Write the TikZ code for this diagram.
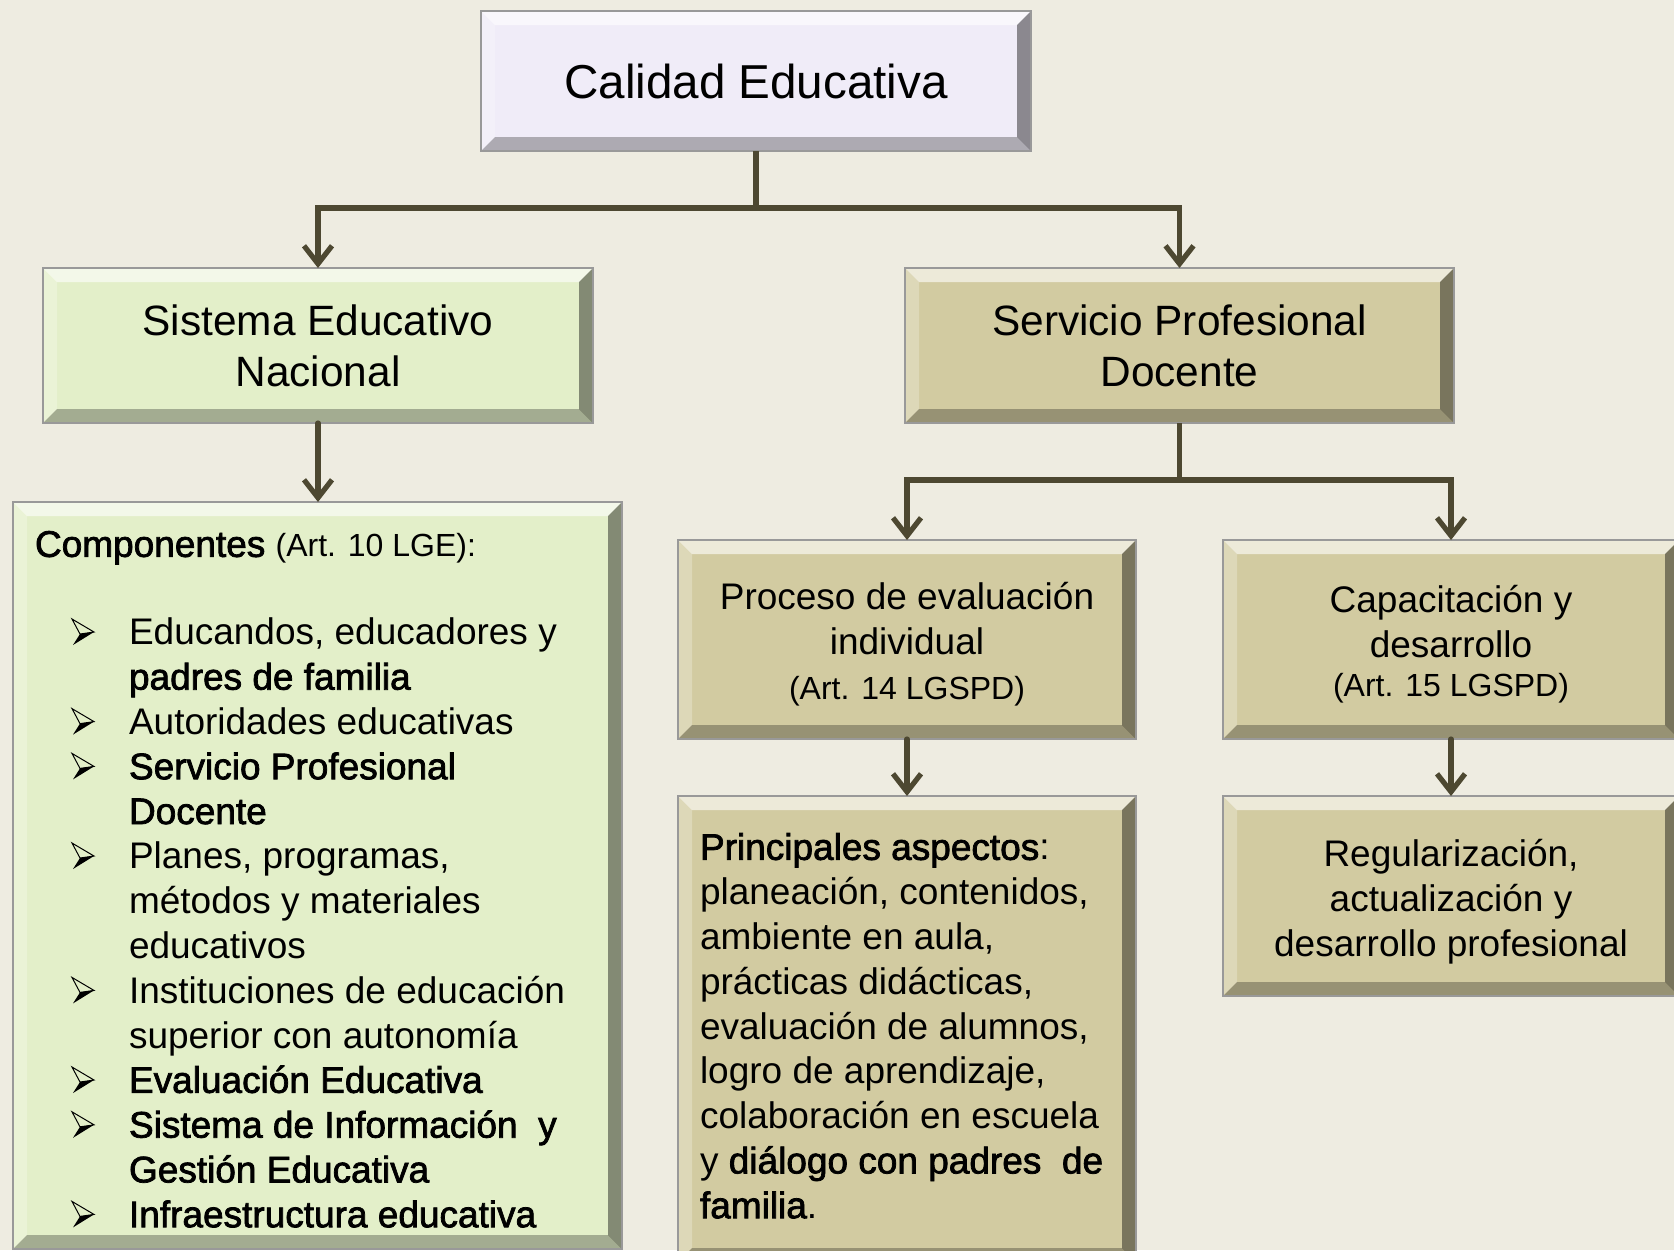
\documentclass[tikz,border=0pt]{standalone}
\usepackage{fontspec}
\setmainfont{Liberation Sans}
\newfontfamily\fbold[FakeBold=2]{Liberation Sans}
\usetikzlibrary{arrows.meta}
\definecolor{bgc}{HTML}{EEECE1}
\definecolor{lav}{HTML}{F0ECF8}
\definecolor{grn}{HTML}{E3EFC9}
\definecolor{tanc}{HTML}{D2CBA1}
\definecolor{arr}{HTML}{4D4831}
\newcommand{\bft}[1]{{\fbold #1}}
\newcommand{\ind}{\hspace*{28.5pt}}
\tikzset{
  bevel/.style={path picture={
    \path (path picture bounding box.south west) coordinate (bSW)
          (path picture bounding box.north east) coordinate (bNE)
          (path picture bounding box.north west) coordinate (bNW)
          (path picture bounding box.south east) coordinate (bSE);
    \fill[white,opacity=.6] (bNW) -- (bNE) -- ([shift={(-7pt,-7pt)}]bNE) -- ([shift={(7pt,-7pt)}]bNW) -- cycle;
    \fill[white,opacity=.25] (bNW) -- ([shift={(7pt,-7pt)}]bNW) -- ([shift={(7pt,7pt)}]bSW) -- (bSW) -- cycle;
    \fill[black,opacity=.42] (bNE) -- (bSE) -- ([shift={(-7pt,7pt)}]bSE) -- ([shift={(-7pt,-7pt)}]bNE) -- cycle;
    \fill[black,opacity=.28] (bSW) -- ([shift={(7pt,7pt)}]bSW) -- ([shift={(-7pt,7pt)}]bSE) -- (bSE) -- cycle;
  }},
  bx/.style={rectangle, inner sep=0pt, outer sep=0pt, fill=#1, draw=black!40, line width=0.6pt,
             align=center, bevel, font=\fontsize{18.5}{22.4}\selectfont},
  conn/.style={draw=arr, line width=2.6pt},
  arw/.style={conn, -{Straight Barb[length=9pt,width=14pt]}, line cap=round},
  txt/.style={inner sep=0pt, outer sep=0pt, font=\fontsize{18.5}{22.4}\selectfont},
  bullettop/.style={draw=black, line width=0.5pt, line join=miter},
  bulletlow/.style={fill=black}
}
\begin{document}
\begin{tikzpicture}[x=0.5pt,y=-0.5pt]
\useasboundingbox (0,0) rectangle (1674,1250);
\clip (0,0) rectangle (1674,1250);
\fill[bgc] (0,0) rectangle (1674,1250);

% boxes
\node[bx=lav, minimum width=275pt, minimum height=70pt, font=\fontsize{23.8}{28}\selectfont] (cal) at (756,81) {Calidad Educativa};
\node[bx=grn, minimum width=275pt, minimum height=77.5pt, font=\fontsize{21.2}{25.5}\selectfont] (sis) at (318,345.5) {Sistema Educativo\\Nacional};
\node[bx=tanc, minimum width=274.5pt, minimum height=77.5pt, font=\fontsize{21.2}{25.5}\selectfont] (ser) at (1179.5,345.5) {Servicio Profesional\\Docente};
\node[bx=grn, minimum width=304.5pt, minimum height=373.5pt] (comp) at (317.5,875.5) {};
\node[bx=tanc, minimum width=229pt, minimum height=99.5pt] (pro) at (907,639.5) {\rule{0pt}{18.5pt}Proceso de evaluación\\individual\\{\fontsize{16}{22.4}\selectfont (Art. 14 LGSPD)}};
\node[bx=tanc, minimum width=228pt, minimum height=99.5pt] (cap) at (1451,639.5) {\rule{0pt}{18.2pt}Capacitación y\\desarrollo\\[-2.7pt]{\fontsize{16}{20.5}\selectfont (Art. 15 LGSPD)}};
\node[bx=tanc, minimum width=229pt, minimum height=233pt] (pri) at (907,1029) {};
\node[bx=tanc, minimum width=228pt, minimum height=100pt] (reg) at (1451,896) {\rule{0pt}{19.1pt}Regularización,\\actualización y\\desarrollo profesional};

% texts in the large boxes
\node[txt, anchor=north west] (ctitle) at (35,531) {\bft{Componentes} {\fontsize{16}{16}\selectfont (Art. 10 LGE):}};
\node[txt, anchor=north west, align=left] (items) at (72,618) {%
\ind Educandos, educadores y\\
\ind\bft{padres de familia}\\
\ind Autoridades educativas\\
\ind\bft{Servicio Profesional}\\
\ind\bft{Docente}\\
\ind Planes, programas,\\
\ind métodos y materiales\\
\ind educativos\\
\ind Instituciones de educación\\
\ind superior con autonomía\\
\ind\bft{Evaluación Educativa}\\
\ind\bft{Sistema de Información\ \ y}\\
\ind\bft{Gestión Educativa}\\
\ind\bft{Infraestructura educativa}};
\foreach \k in {0,2,3,5,8,10,11,13} {
  \pgfmathsetmacro{\yy}{632+44.8*\k}
  \draw[bullettop] (72,\yy-13) -- (94,\yy) -- (80,\yy+2) -- cycle;
  \fill[bulletlow] (80,\yy+2) -- (94,\yy) -- (73,\yy+13) -- cycle;
}
\node[txt, anchor=north west, align=left] (pritxt) at (700,833) {%
\bft{Principales aspectos}:\\
planeación, contenidos,\\
ambiente en aula,\\
prácticas didácticas,\\
evaluación de alumnos,\\
logro de aprendizaje,\\
colaboración en escuela\\
y \bft{diálogo con padres\ \ de}\\
\bft{familia}.};

% connectors
\coordinate (j1) at (756,208);
\coordinate (j2) at (1179.5,480);
\draw[conn] (cal.south) -- (j1);
\draw[arw] (j1) -| (sis.north);
\draw[arw] (j1) -| (ser.north);
\draw[arw] (sis.south) -- (sis.south |- comp.north);
\draw[conn] (ser.south) -- (j2);
\draw[arw] (j2) -| (pro.north);
\draw[arw] (j2) -| (cap.north);
\draw[arw] (pro.south) -- (pri.north);
\draw[arw] (cap.south) -- (reg.north);
\end{tikzpicture}
\end{document}
